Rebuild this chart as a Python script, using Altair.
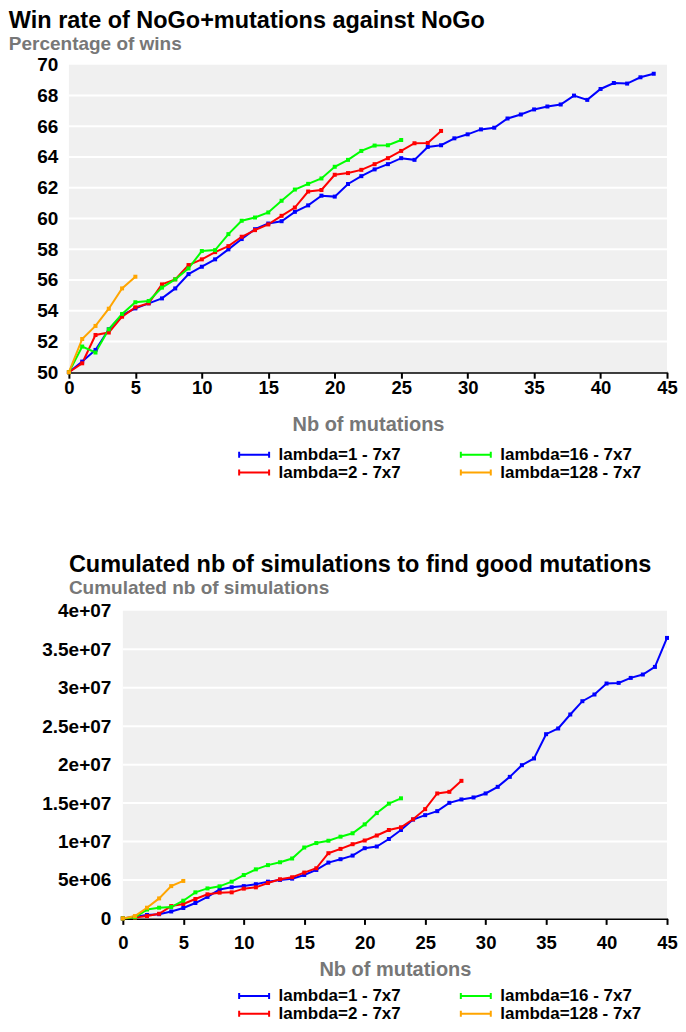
import altair as alt
import pandas as pd

FONT = "Liberation Sans"
GREY = "#777777"
BG = "#f0f0f0"

series_names = ["lambda=1 - 7x7", "lambda=2 - 7x7", "lambda=16 - 7x7", "lambda=128 - 7x7"]
series_colors = ["#0000ff", "#ff0000", "#00ff00", "#ffa500"]

x_ticks = [0, 5, 10, 15, 20, 25, 30, 35, 40, 45]
win_ticks = [50, 52, 54, 56, 58, 60, 62, 64, 66, 68, 70]
sim_ticks = [0, 5e6, 1e7, 1.5e7, 2e7, 2.5e7, 3e7, 3.5e7, 4e7]

# Win rate (%) per number of mutations
win_lambda1 = [50, 50.69, 51.45, 52.79, 53.72, 54.15, 54.48, 54.8, 55.45, 56.38,
               56.86, 57.34, 57.99, 58.66, 59.3, 59.67, 59.82, 60.43, 60.85, 61.48,
               61.42, 62.24, 62.75, 63.19, 63.53, 63.92, 63.81, 64.65, 64.76, 65.21,
               65.47, 65.79, 65.9, 66.5, 66.76, 67.09, 67.28, 67.41, 67.99, 67.71,
               68.42, 68.81, 68.77, 69.18, 69.41]
win_lambda2 = [50, 50.58, 52.42, 52.58, 53.61, 54.22, 54.48, 55.71, 56.04, 56.97,
               57.34, 57.81, 58.2, 58.81, 59.24, 59.61, 60.17, 60.71, 61.75, 61.85,
               62.84, 62.95, 63.16, 63.53, 63.92, 64.39, 64.89, 64.91, 65.69]
win_lambda16 = [50, 51.67, 51.28, 52.79, 53.79, 54.55, 54.63, 55.5, 56.04, 56.75,
                57.88, 57.94, 58.98, 59.85, 60.06, 60.39, 61.15, 61.88, 62.25, 62.6,
                63.36, 63.81, 64.39, 64.74, 64.76, 65.1]
win_lambda128 = [50, 52.16, 53.01, 54.13, 55.45, 56.21]

# Cumulated number of simulations, in millions
sims_lambda1 = [0, 0.2, 0.45, 0.55, 0.9, 1.35, 2.0, 2.8, 3.75, 4.05,
                4.2, 4.45, 4.78, 5.0, 5.17, 5.65, 6.3, 7.26, 7.7, 8.17,
                9.13, 9.35, 10.33, 11.5, 12.85, 13.43, 13.95, 15.03, 15.47, 15.73,
                16.25, 17.11, 18.41, 19.93, 20.8, 23.96, 24.7, 26.52, 28.25, 29.12,
                30.55, 30.63, 31.28, 31.72, 32.71, 36.48]
sims_lambda2 = [0, 0.1, 0.3, 0.6, 1.6, 1.87, 2.52, 3.13, 3.35, 3.39,
                3.87, 4.04, 4.6, 5.09, 5.35, 5.96, 6.52, 8.48, 9.04, 9.65,
                10.13, 10.78, 11.5, 11.85, 12.89, 14.21, 16.25, 16.46, 17.89]
sims_lambda16 = [0, 0.15, 1.15, 1.39, 1.48, 2.3, 3.39, 3.9, 4.17, 4.78,
                 5.64, 6.38, 6.93, 7.3, 7.79, 9.22, 9.8, 10.1, 10.63, 11.07,
                 12.23, 13.7, 14.93, 15.62]
sims_lambda128 = [0, 0.3, 1.39, 2.6, 4.2, 4.87]


def frame(lists, unit=1.0):
    rows = []
    for name, vals in zip(series_names, lists):
        for i, v in enumerate(vals):
            rows.append({"series": name, "n": i, "v": v * unit})
    return pd.DataFrame(rows)


win_df = frame([win_lambda1, win_lambda2, win_lambda16, win_lambda128])
sim_df = frame([sims_lambda1, sims_lambda2, sims_lambda16, sims_lambda128], 1e6)


def make_legend(lx, ly):
    return alt.Legend(
        title=None, orient="none", legendX=lx, legendY=ly, columns=2,
        symbolType="M-3,-0.6L-3,0.6M-3,0L3,0M3,-0.6L3,0.6",
        symbolSize=100, symbolStrokeWidth=2,
        labelFont=FONT, labelFontSize=17, labelFontWeight="bold", labelColor="black",
        labelOffset=16, columnPadding=55, rowPadding=0, padding=0,
    )


def panel(df, width, x_range, y_ticks, y_label_pad, y_offset, x_label_pad,
          x_title_pad, legend, label_expr=None, title=None):
    x_scale = alt.Scale(domain=[x_ticks[0], x_ticks[-1]], nice=False)
    if x_range is not None:
        x_scale = alt.Scale(domain=[x_ticks[0], x_ticks[-1]], range=x_range, nice=False)
    y_scale = alt.Scale(domain=[y_ticks[0], y_ticks[-1]], nice=False, zero=False)

    y_axis_kw = dict(
        values=y_ticks, title=None, grid=False, domain=False, ticks=False,
        labelPadding=y_label_pad, offset=y_offset,
        labelFont=FONT, labelFontSize=19, labelFontWeight="bold", labelColor="black",
    )
    if label_expr is not None:
        y_axis_kw["labelExpr"] = label_expr
    y_axis = alt.Axis(**y_axis_kw)
    x_axis = alt.Axis(
        values=x_ticks, title="Nb of mutations", grid=False,
        domainColor="black", domainWidth=2, tickColor="black", tickWidth=2, tickSize=6,
        labelPadding=x_label_pad, labelFont=FONT, labelFontSize=18.5,
        labelFontWeight="bold", labelColor="black", labelFlush=False,
        titleFont=FONT, titleFontSize=20, titleFontWeight="bold", titleColor=GREY,
        titlePadding=x_title_pad,
    )

    bg_df = pd.DataFrame({"x0": [x_ticks[0]], "x1": [x_ticks[-1]],
                          "y0": [y_ticks[0]], "y1": [y_ticks[-1]]})
    bg = alt.Chart(bg_df).mark_rect(color=BG).encode(
        x=alt.X("x0:Q", scale=x_scale, axis=x_axis), x2="x1:Q",
        y=alt.Y("y0:Q", scale=y_scale, axis=y_axis), y2="y1:Q",
    )
    grid_df = pd.DataFrame({"g": y_ticks[1:-1]})
    grid_df["x0"] = x_ticks[0]
    grid_df["x1"] = x_ticks[-1]
    grid = alt.Chart(grid_df).mark_rule(color="white", strokeWidth=2).encode(
        x=alt.X("x0:Q", scale=x_scale, axis=x_axis), x2="x1:Q",
        y=alt.Y("g:Q", scale=y_scale, axis=y_axis),
    )
    lines = alt.Chart(df).mark_line(
        strokeWidth=2,
        point=alt.OverlayMarkDef(shape="square", size=16, filled=True),
    ).encode(
        x=alt.X("n:Q", scale=x_scale, axis=x_axis),
        y=alt.Y("v:Q", scale=y_scale, axis=y_axis),
        color=alt.Color("series:N",
                        scale=alt.Scale(domain=series_names, range=series_colors),
                        legend=legend),
    )
    props = dict(width=width, height=308)
    if title is not None:
        props["title"] = title
    return alt.layer(bg, grid, lines).properties(**props)


PLOT_W = 599
SHIFT = 54  # bottom plot starts further right than the top one

top = panel(win_df, PLOT_W, None, win_ticks, 11, 0, 0, 18,
            make_legend(177, 382))

bottom_title = alt.TitleParams(
    text="Cumulated nb of simulations to find good mutations",
    subtitle="Cumulated nb of simulations",
    anchor="start", frame="group", dx=0, offset=4,
    font=FONT, fontSize=23.5, fontWeight="bold", color="black",
    subtitleFont=FONT, subtitleFontSize=19, subtitleFontWeight="bold",
    subtitleColor=GREY, subtitlePadding=2,
)
bottom = panel(sim_df, PLOT_W, [SHIFT, PLOT_W], sim_ticks, 12, -SHIFT, 9, 8,
               make_legend(177, 377),
               label_expr="datum.value == 0 ? '0' : replace(format(datum.value, '~e'), 'e+', 'e+0')",
               title=bottom_title)

chart = alt.vconcat(top, bottom, spacing=72).resolve_legend(
    color="independent"
).properties(
    title=alt.TitleParams(
        text="Win rate of NoGo+mutations against NoGo",
        subtitle="Percentage of wins",
        anchor="start", dx=-28, offset=2,
        font=FONT, fontSize=23.5, fontWeight="bold", color="black",
        subtitleFont=FONT, subtitleFontSize=19, subtitleFontWeight="bold",
        subtitleColor=GREY, subtitlePadding=2,
    ),
    padding={"left": 0, "top": 0, "right": 0, "bottom": 0},
).configure_view(strokeWidth=0)

chart.save("out.html", embed_options={"renderer": "svg", "actions": False})
